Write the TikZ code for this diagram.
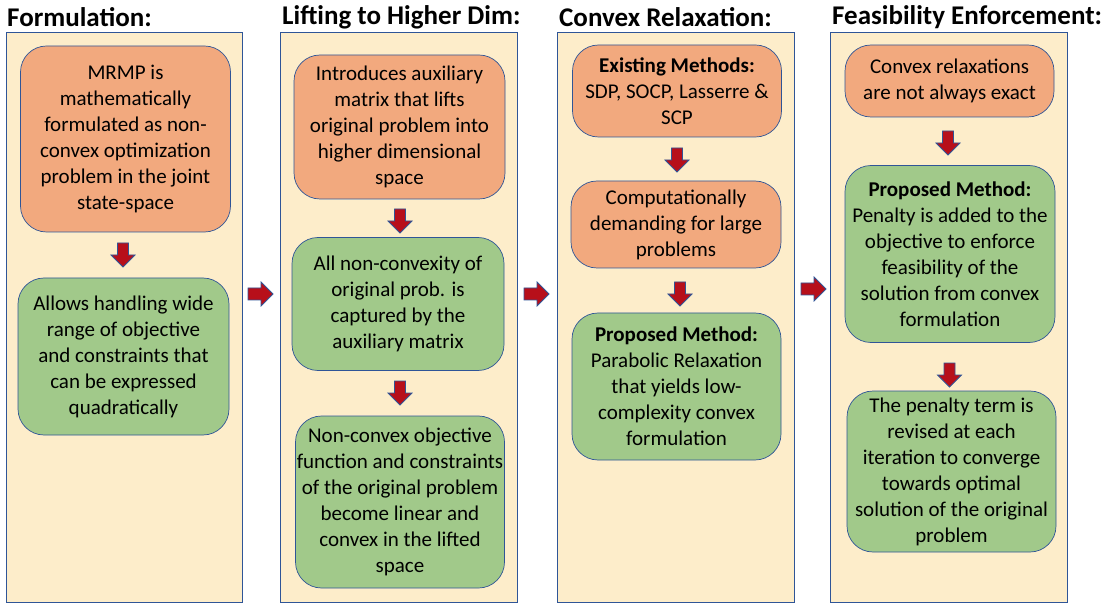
\documentclass[tikz,border=0pt]{standalone}
\usepackage{fontspec}
\setmainfont{Carlito}
\definecolor{panelfill}{HTML}{FDEDCA}
\definecolor{panelline}{HTML}{2F5597}
\definecolor{orfill}{HTML}{F2A97E}
\definecolor{grfill}{HTML}{A1C98A}
\definecolor{arrred}{HTML}{B70F1A}
\tikzset{
  panel/.style={draw=panelline, fill=panelfill, line width=0.9pt, inner sep=0pt},
  ptitle/.style={anchor=west, inner sep=0pt, font=\fontsize{27}{32}\selectfont\bfseries},
  boxbase/.style={draw=panelline, line width=0.7pt, rounded corners=26pt, align=center,
    inner sep=0pt, font=\fontsize{21}{26}\selectfont},
  obox/.style={boxbase, fill=orfill},
  gbox/.style={boxbase, fill=grfill},
  arrowstyle/.style={draw=panelline, fill=arrred, line width=0.8pt, line join=miter},
  downarr/.pic={
    \coordinate (-c) at (0,0);
    \path[arrowstyle] (-5.5,-12) -- (5.5,-12) -- (5.5,0) -- (12,0) -- (0,12)
      -- (-12,0) -- (-5.5,0) -- cycle;
  },
  rightarr/.pic={
    \coordinate (-c) at (0,0);
    \path[arrowstyle] (-12.5,-6) -- (0.5,-6) -- (0.5,-12) -- (12.5,0) -- (0.5,12)
      -- (0.5,6) -- (-12.5,6) -- cycle;
  },
}
\begin{document}
\begin{tikzpicture}[x=1pt,y=-1pt]
\useasboundingbox (0,0) rectangle (1103,612);
% panels
\node[panel, minimum width=236pt, minimum height=570pt] (p1) at (124.5,317) {};
\node[panel, minimum width=237pt, minimum height=570pt] (p2) at (398.5,317) {};
\node[panel, minimum width=237pt, minimum height=570pt] (p3) at (676,317) {};
\node[panel, minimum width=237pt, minimum height=570pt] (p4) at (948.5,317) {};
% titles
\node[ptitle] (t1) at (7,17) {Formulation:};
\node[ptitle] (t2) at (282,17) {Lifting to Higher Dim:};
\node[ptitle] (t3) at (559,17) {Convex Relaxation:};
\node[ptitle] (t4) at (832,17) {Feasibility Enforcement:};
% panel 1
\node[obox, minimum width=210pt, minimum height=186pt] (a1) at (125.5,139) {MRMP is\\mathematically\\formulated as non-\\convex optimization\\problem in the joint\\state-space};
\node[gbox, minimum width=211pt, minimum height=157pt] (a2) at (123.5,356.5) {Allows handling wide\\range of objective\\and constraints that\\can be expressed\\quadratically};
% panel 2
\node[obox, minimum width=211pt, minimum height=144pt] (b1) at (399.5,127) {Introduces auxiliary\\matrix that lifts\\original problem into\\higher dimensional\\space};
\node[gbox, minimum width=212pt, minimum height=133pt] (b2) at (398,304) {All non-convexity of\\original prob. is\\captured by the\\auxiliary matrix};
\node[gbox, minimum width=209pt, minimum height=172pt] (b3) at (400,502) {Non-convex objective\\function and constraints\\of the original problem\\become linear and\\convex in the lifted\\space};
% panel 3
\node[obox, minimum width=209pt, minimum height=92pt] (c1) at (677,91) {\textbf{Existing Methods:}\\SDP, SOCP, Lasserre \&\\SCP};
\node[obox, minimum width=210pt, minimum height=87pt] (c2) at (676,224.5) {Computationally\\demanding for large\\problems};
\node[gbox, minimum width=209pt, minimum height=147pt] (c3) at (676.5,386.5) {\textbf{Proposed Method:}\\Parabolic Relaxation\\that yields low-\\complexity convex\\formulation};
% panel 4
\node[obox, minimum width=209pt, minimum height=72pt] (d1) at (949.5,81) {Convex relaxations\\are not always exact};
\node[gbox, minimum width=210pt, minimum height=177pt] (d2) at (950,254) {\textbf{Proposed Method:}\\Penalty is added to the\\objective to enforce\\feasibility of the\\solution from convex\\formulation};
\node[gbox, minimum width=209pt, minimum height=161pt] (d3) at (951.5,471.5) {The penalty term is\\revised at each\\iteration to converge\\towards optimal\\solution of the original\\problem};
% down arrows
\pic (x1) at (123,255) {downarr};
\pic (x2) at (400,221) {downarr};
\pic (x3) at (400,393) {downarr};
\pic (x4) at (677,160) {downarr};
\pic (x5) at (680,294) {downarr};
\pic (x6) at (948,143) {downarr};
\pic (x7) at (949.5,375) {downarr};
% right arrows
\pic (r1) at (260.5,294) {rightarr};
\pic (r2) at (536.5,294) {rightarr};
\pic (r3) at (813.5,289) {rightarr};
\end{tikzpicture}
\end{document}
